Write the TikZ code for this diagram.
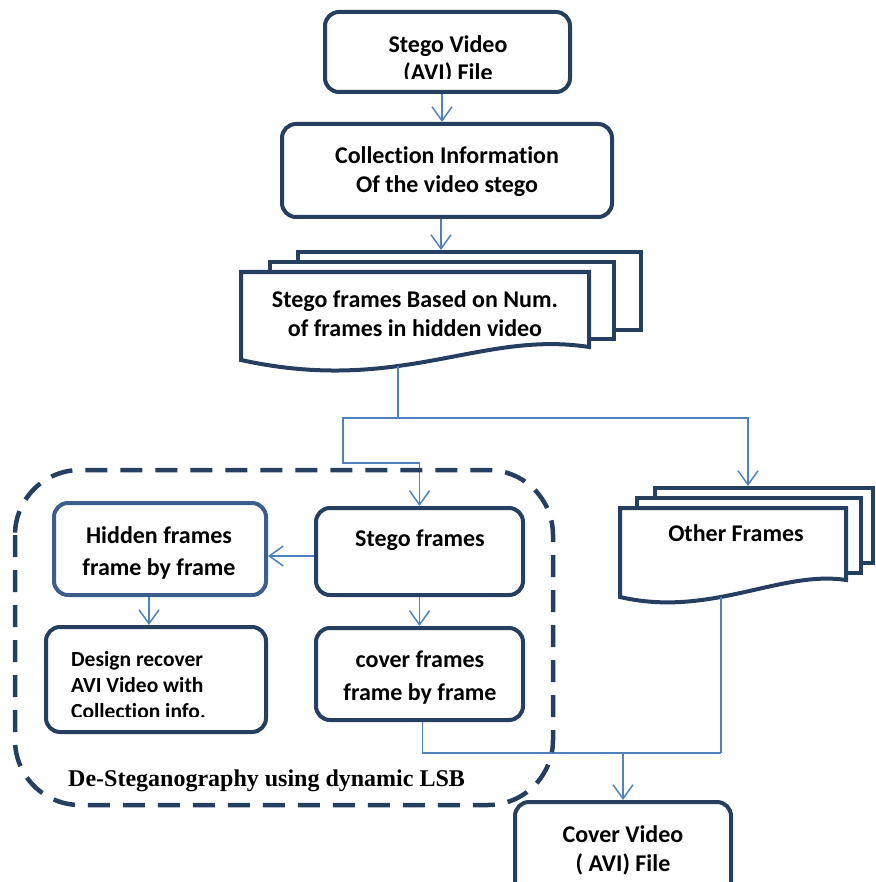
\documentclass[tikz,border=0pt]{standalone}
\usepackage{fontspec}
\setmainfont{Carlito}[Ligatures=NoCommon]
\newfontfamily\serifbold{Liberation Serif}
\usetikzlibrary{arrows.meta}
\definecolor{navy}{RGB}{36,63,96}
\definecolor{hidblue}{RGB}{58,95,140}
\definecolor{arrblue}{RGB}{79,129,189}
\begin{document}
\begin{tikzpicture}[x=1pt,y=-1pt,
  box/.style={draw=navy,line width=4pt,rounded corners=14pt,fill=white,inner sep=0pt},
  doc/.style={draw=navy,line width=4pt,fill=white,line join=miter},
  txt/.style={font=\fontsize{24}{29}\selectfont\bfseries,align=center,inner sep=0pt},
  stxt/.style={font=\fontsize{21.5}{26}\selectfont\bfseries,align=left,inner sep=0pt},
  conn/.style={draw=arrblue,line width=1.5pt},
  arr/.style={conn,-{Straight Barb[length=14pt,width=20pt,line width=1.5pt]}},
  dashbox/.style={draw=navy,line width=4.5pt,dash pattern=on 22pt off 13pt,rounded corners=65pt}]
\useasboundingbox (0,0) rectangle (875,882);

% boxes
\node[box,minimum width=245pt,minimum height=80pt] (sv) at (447.5,52) {};
\begin{scope}
\clip (320,10) rectangle (575,79);
\node[txt,font=\fontsize{24}{28}\selectfont\bfseries] (svt) at (448,60) {Stego Video\\(AVI) File};
\end{scope}

\node[box,minimum width=330pt,minimum height=93pt] (ci) at (447,170.5) {};
\node[txt] (cit) at (447,172) {Collection Information\\Of the video stego};

% stego frames document stack
\draw[doc] (298,252) rectangle (641,330);
\draw[doc] (270,262) rectangle (614,339);
\draw[doc] (241,272) -- (589,272) -- (589,347) .. controls (480,330) and (400,395) .. (241,360) -- cycle;
\node[txt] (sdt) at (415,313.5) {Stego frames Based on Num.\\of frames in hidden video};
\coordinate (sbt) at (441,250);
\coordinate (sfb) at (398,366);

% other frames document stack
\draw[doc] (655,488) rectangle (873,563);
\draw[doc] (637,498) rectangle (861,573);
\draw[doc] (620,508) -- (846,508) -- (846,580) .. controls (780,570) and (710,618) .. (620,597) -- cycle;
\node[txt] (oft) at (736,533) {Other Frames};
\coordinate (obt) at (748,486);
\coordinate (ofb) at (721,597);

% inner boxes
\node[box,draw=hidblue,minimum width=212pt,minimum height=92pt] (hf) at (160,549) {};
\node[txt,font=\fontsize{24}{32}\selectfont\bfseries] (hft) at (159,553) {Hidden frames\\frame by frame};
\node[box,minimum width=207pt,minimum height=87pt] (sf) at (419.5,551.5) {};
\node[txt] (sft) at (420,540) {Stego frames};
\node[box,minimum width=220pt,minimum height=105pt] (dr) at (156,679.5) {};
\begin{scope}
\clip (46,627) rectangle (266,716);
\node[stxt,anchor=west] (drt) at (71,685) {Design recover\\AVI Video with\\Collection info.};
\end{scope}
\node[box,minimum width=207pt,minimum height=92pt] (cf) at (419.5,674) {};
\node[txt,font=\fontsize{24}{33}\selectfont\bfseries] (cft) at (420,678) {cover frames\\frame by frame};

\node[box,minimum width=216pt,minimum height=100pt] (cv) at (623,852) {};
\node[txt] (cvt) at (623,850.5) {Cover Video\\( AVI) File};

% connectors
\coordinate (s1) at ([xshift=-5.5pt]sv.south);
\draw[arr] (s1) -- (s1 |- ci.north);
\coordinate (c0) at (sbt |- ci.south);
\draw[arr] (c0) -- (sbt);
\coordinate (j1) at (398,418);
\coordinate (j2) at (343,463);
\draw[conn] (sfb) -- (j1);
\draw[arr] (j1) -| (obt);
\draw[arr] (j1) -| (j2) -| (sf.north);
\coordinate (a1) at ([yshift=-4.5pt]sf.west);
\draw[arr] (a1) -- (a1 -| hf.east);
\coordinate (h1) at ([xshift=-11pt]hf.south);
\draw[arr] (h1) -- (h1 |- dr.north);
\draw[arr] (sf.south) -- (cf.north);
\coordinate (j3) at (721,753);
\coordinate (c1) at ([xshift=3pt]cf.south);
\draw[conn] (c1) |- (j3);
\draw[conn] (ofb) -- (j3);
\draw[arr] (cv.north |- j3) -- (cv.north);

% dashed group
\draw[dashbox] (15,470) rectangle (553,805);
\begin{scope}
\clip (20,740) rectangle (540,791);
\node[font=\serifbold\bfseries\fontsize{24}{28}\selectfont,anchor=base west,inner sep=0pt] (lbl) at (68,786) {De-Steganography using dynamic LSB};
\end{scope}
\end{tikzpicture}
\end{document}
